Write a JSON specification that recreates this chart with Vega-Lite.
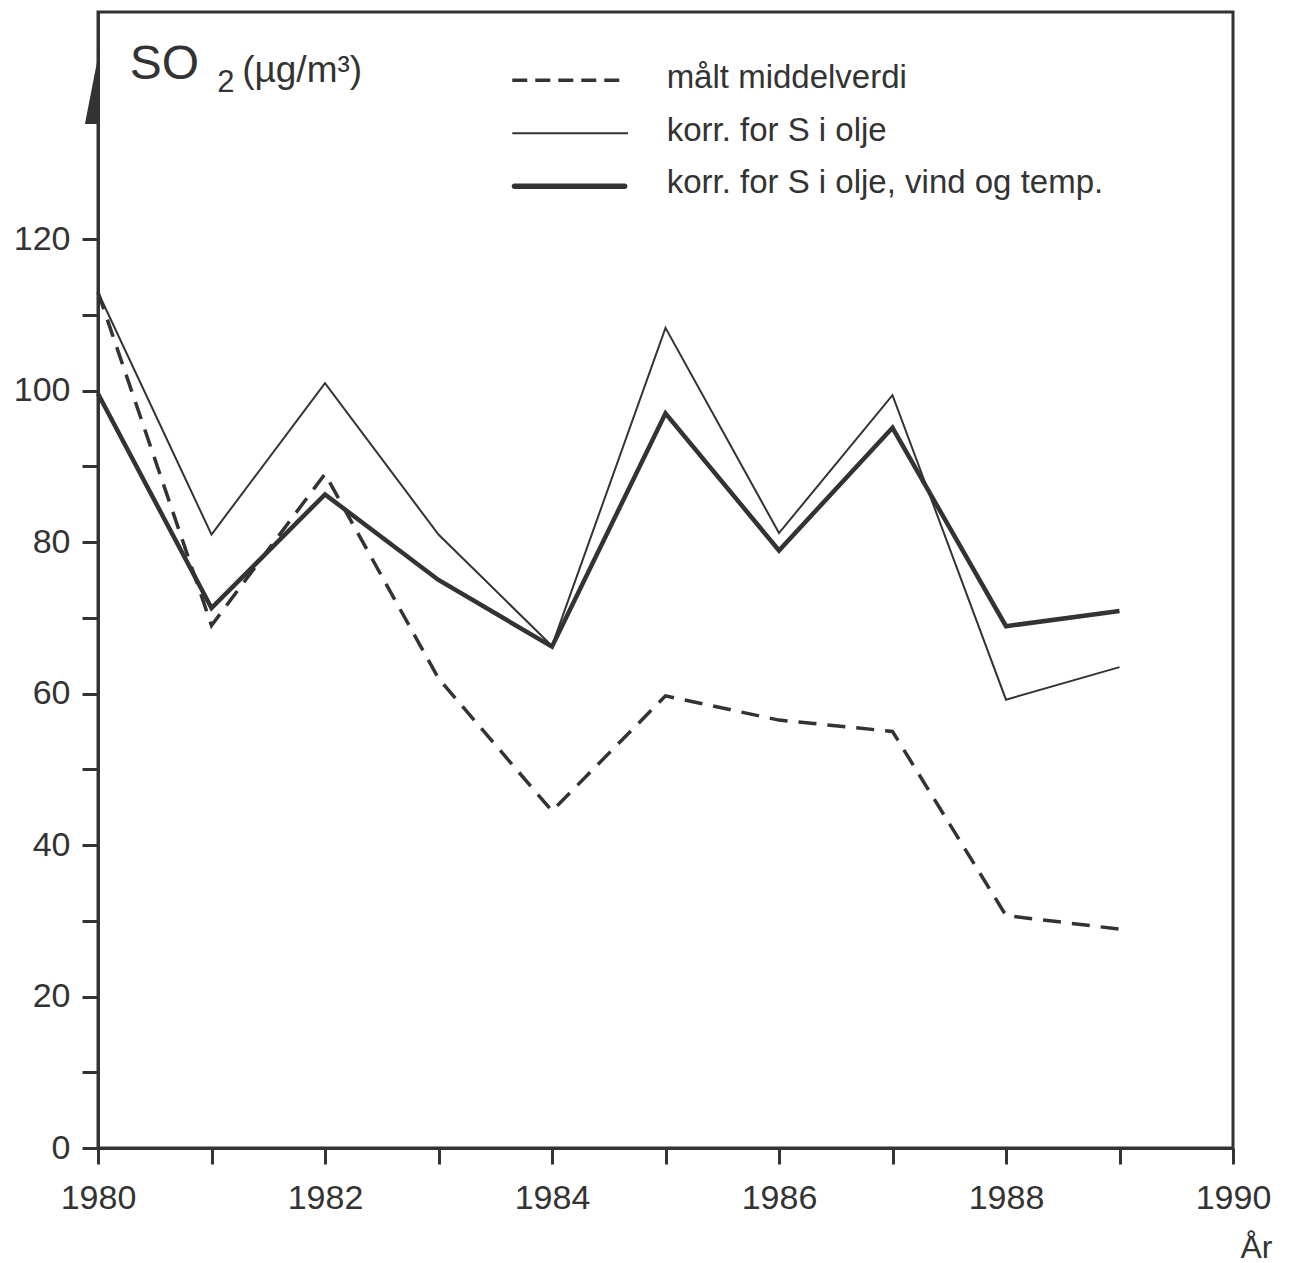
{
  "$schema": "https://vega.github.io/schema/vega-lite/v6.json",
  "width": 1135,
  "height": 1136,
  "autosize": {"type": "none"},
  "padding": {"left": 98, "top": 12, "right": 58, "bottom": 115},
  "background": "white",
  "config": {
    "view": {"stroke": "#333333", "strokeWidth": 3},
    "axis": {
      "grid": false,
      "domainColor": "#333333",
      "domainWidth": 3,
      "tickColor": "#333333",
      "tickWidth": 3,
      "tickSize": 16,
      "labelFont": "Arial, Liberation Sans, Helvetica, sans-serif",
      "labelFontSize": 34,
      "labelColor": "#333333",
      "labelFlush": false
    }
  },
  "datasets": {
    "so2": [
      {"serie": "målt middelverdi", "year": 1980, "so2": 113},
      {"serie": "målt middelverdi", "year": 1981, "so2": 69},
      {"serie": "målt middelverdi", "year": 1982, "so2": 89},
      {"serie": "målt middelverdi", "year": 1983, "so2": 62},
      {"serie": "målt middelverdi", "year": 1984, "so2": 44.5},
      {"serie": "målt middelverdi", "year": 1985, "so2": 59.7},
      {"serie": "målt middelverdi", "year": 1986, "so2": 56.5},
      {"serie": "målt middelverdi", "year": 1987, "so2": 55},
      {"serie": "målt middelverdi", "year": 1988, "so2": 30.7},
      {"serie": "målt middelverdi", "year": 1989, "so2": 28.9},
      {"serie": "korr. for S i olje", "year": 1980, "so2": 113},
      {"serie": "korr. for S i olje", "year": 1981, "so2": 81},
      {"serie": "korr. for S i olje", "year": 1982, "so2": 101},
      {"serie": "korr. for S i olje", "year": 1983, "so2": 81},
      {"serie": "korr. for S i olje", "year": 1984, "so2": 66.3},
      {"serie": "korr. for S i olje", "year": 1985, "so2": 108.3},
      {"serie": "korr. for S i olje", "year": 1986, "so2": 81.2},
      {"serie": "korr. for S i olje", "year": 1987, "so2": 99.4},
      {"serie": "korr. for S i olje", "year": 1988, "so2": 59.2},
      {"serie": "korr. for S i olje", "year": 1989, "so2": 63.5},
      {"serie": "korr. for S i olje, vind og temp.", "year": 1980, "so2": 99.6},
      {"serie": "korr. for S i olje, vind og temp.", "year": 1981, "so2": 71.3},
      {"serie": "korr. for S i olje, vind og temp.", "year": 1982, "so2": 86.3},
      {"serie": "korr. for S i olje, vind og temp.", "year": 1983, "so2": 75},
      {"serie": "korr. for S i olje, vind og temp.", "year": 1984, "so2": 66.2},
      {"serie": "korr. for S i olje, vind og temp.", "year": 1985, "so2": 97},
      {"serie": "korr. for S i olje, vind og temp.", "year": 1986, "so2": 78.9},
      {"serie": "korr. for S i olje, vind og temp.", "year": 1987, "so2": 95.1},
      {"serie": "korr. for S i olje, vind og temp.", "year": 1988, "so2": 68.9},
      {"serie": "korr. for S i olje, vind og temp.", "year": 1989, "so2": 70.9}
    ],
    "key": [
      {"serie": "målt middelverdi", "year": 1983.65, "so2": 141.0},
      {"serie": "målt middelverdi", "year": 1984.66, "so2": 141.0},
      {"serie": "korr. for S i olje", "year": 1983.65, "so2": 134.0},
      {"serie": "korr. for S i olje", "year": 1984.67, "so2": 134.0},
      {"serie": "korr. for S i olje, vind og temp.", "year": 1983.67, "so2": 127.0},
      {"serie": "korr. for S i olje, vind og temp.", "year": 1984.64, "so2": 127.0}
    ],
    "keyText": [
      {"text": "målt middelverdi", "year": 1985.01, "so2": 139.9},
      {"text": "korr. for S i olje", "year": 1985.01, "so2": 133.0},
      {"text": "korr. for S i olje, vind og temp.", "year": 1985.01, "so2": 126.1}
    ]
  },
  "encoding": {
    "x": {
      "field": "year",
      "type": "quantitative",
      "scale": {"domain": [1980, 1990], "nice": false, "zero": false},
      "axis": {
        "values": [1980, 1981, 1982, 1983, 1984, 1985, 1986, 1987, 1988, 1989, 1990],
        "format": "d",
        "labelExpr": "datum.value % 2 === 0 ? datum.label : ''",
        "labelPadding": 17,
        "title": "År",
        "titleFont": "Arial, Liberation Sans, Helvetica, sans-serif",
        "titleFontSize": 32,
        "titleFontWeight": "normal",
        "titleColor": "#333333",
        "titleAlign": "right",
        "titleBaseline": "alphabetic",
        "titleX": 1174,
        "titleY": 109
      }
    },
    "y": {
      "field": "so2",
      "type": "quantitative",
      "scale": {"domain": [0, 150], "nice": false},
      "axis": {
        "values": [0, 10, 20, 30, 40, 50, 60, 70, 80, 90, 100, 110, 120],
        "labelExpr": "datum.value % 20 === 0 ? datum.label : ''",
        "labelPadding": 12,
        "title": null
      }
    }
  },
  "layer": [
    {
      "data": {"name": "so2"},
      "transform": [{"filter": "datum.serie === 'målt middelverdi'"}],
      "mark": {"type": "line", "stroke": "#333333", "strokeWidth": 3.5, "strokeDash": [18, 11]}
    },
    {
      "data": {"name": "so2"},
      "transform": [{"filter": "datum.serie === 'korr. for S i olje'"}],
      "mark": {"type": "line", "stroke": "#333333", "strokeWidth": 2}
    },
    {
      "data": {"name": "so2"},
      "transform": [{"filter": "datum.serie === 'korr. for S i olje, vind og temp.'"}],
      "mark": {"type": "line", "stroke": "#333333", "strokeWidth": 4.5, "strokeJoin": "miter"}
    },
    {
      "data": {"name": "key"},
      "transform": [{"filter": "datum.serie === 'målt middelverdi'"}],
      "mark": {"type": "line", "stroke": "#333333", "strokeWidth": 3.5, "strokeDash": [15, 8]}
    },
    {
      "data": {"name": "key"},
      "transform": [{"filter": "datum.serie === 'korr. for S i olje'"}],
      "mark": {"type": "line", "stroke": "#333333", "strokeWidth": 2}
    },
    {
      "data": {"name": "key"},
      "transform": [{"filter": "datum.serie === 'korr. for S i olje, vind og temp.'"}],
      "mark": {"type": "line", "stroke": "#333333", "strokeWidth": 5.5, "strokeCap": "round"}
    },
    {
      "data": {"name": "keyText"},
      "mark": {"type": "text", "align": "left", "baseline": "alphabetic", "font": "Arial, Liberation Sans, Helvetica, sans-serif", "fontSize": 33, "fill": "#333333"},
      "encoding": {"text": {"field": "text"}}
    },
    {
      "data": {"values": [{"text": "SO", "year": 1980.28, "so2": 141.2}]},
      "mark": {"type": "text", "align": "left", "baseline": "alphabetic", "font": "Arial, Liberation Sans, Helvetica, sans-serif", "fontSize": 48, "fill": "#333333"},
      "encoding": {"text": {"field": "text"}}
    },
    {
      "data": {"values": [{"text": "2", "year": 1981.05, "so2": 139.5}]},
      "mark": {"type": "text", "align": "left", "baseline": "alphabetic", "font": "Arial, Liberation Sans, Helvetica, sans-serif", "fontSize": 31, "fill": "#333333"},
      "encoding": {"text": {"field": "text"}}
    },
    {
      "data": {"values": [{"text": "(µg/m³)", "year": 1981.27, "so2": 140.8}]},
      "mark": {"type": "text", "align": "left", "baseline": "alphabetic", "font": "Arial, Liberation Sans, Helvetica, sans-serif", "fontSize": 37, "fill": "#333333"},
      "encoding": {"text": {"field": "text"}}
    },
    {
      "data": {"values": [{"year": 1980, "so2": 140.3}]},
      "mark": {
        "type": "point",
        "shape": "M0.05,-1L0.05,1L-0.34,1Z",
        "size": 5929,
        "filled": true,
        "fill": "#333333",
        "strokeWidth": 0,
        "opacity": 1
      }
    }
  ]
}
